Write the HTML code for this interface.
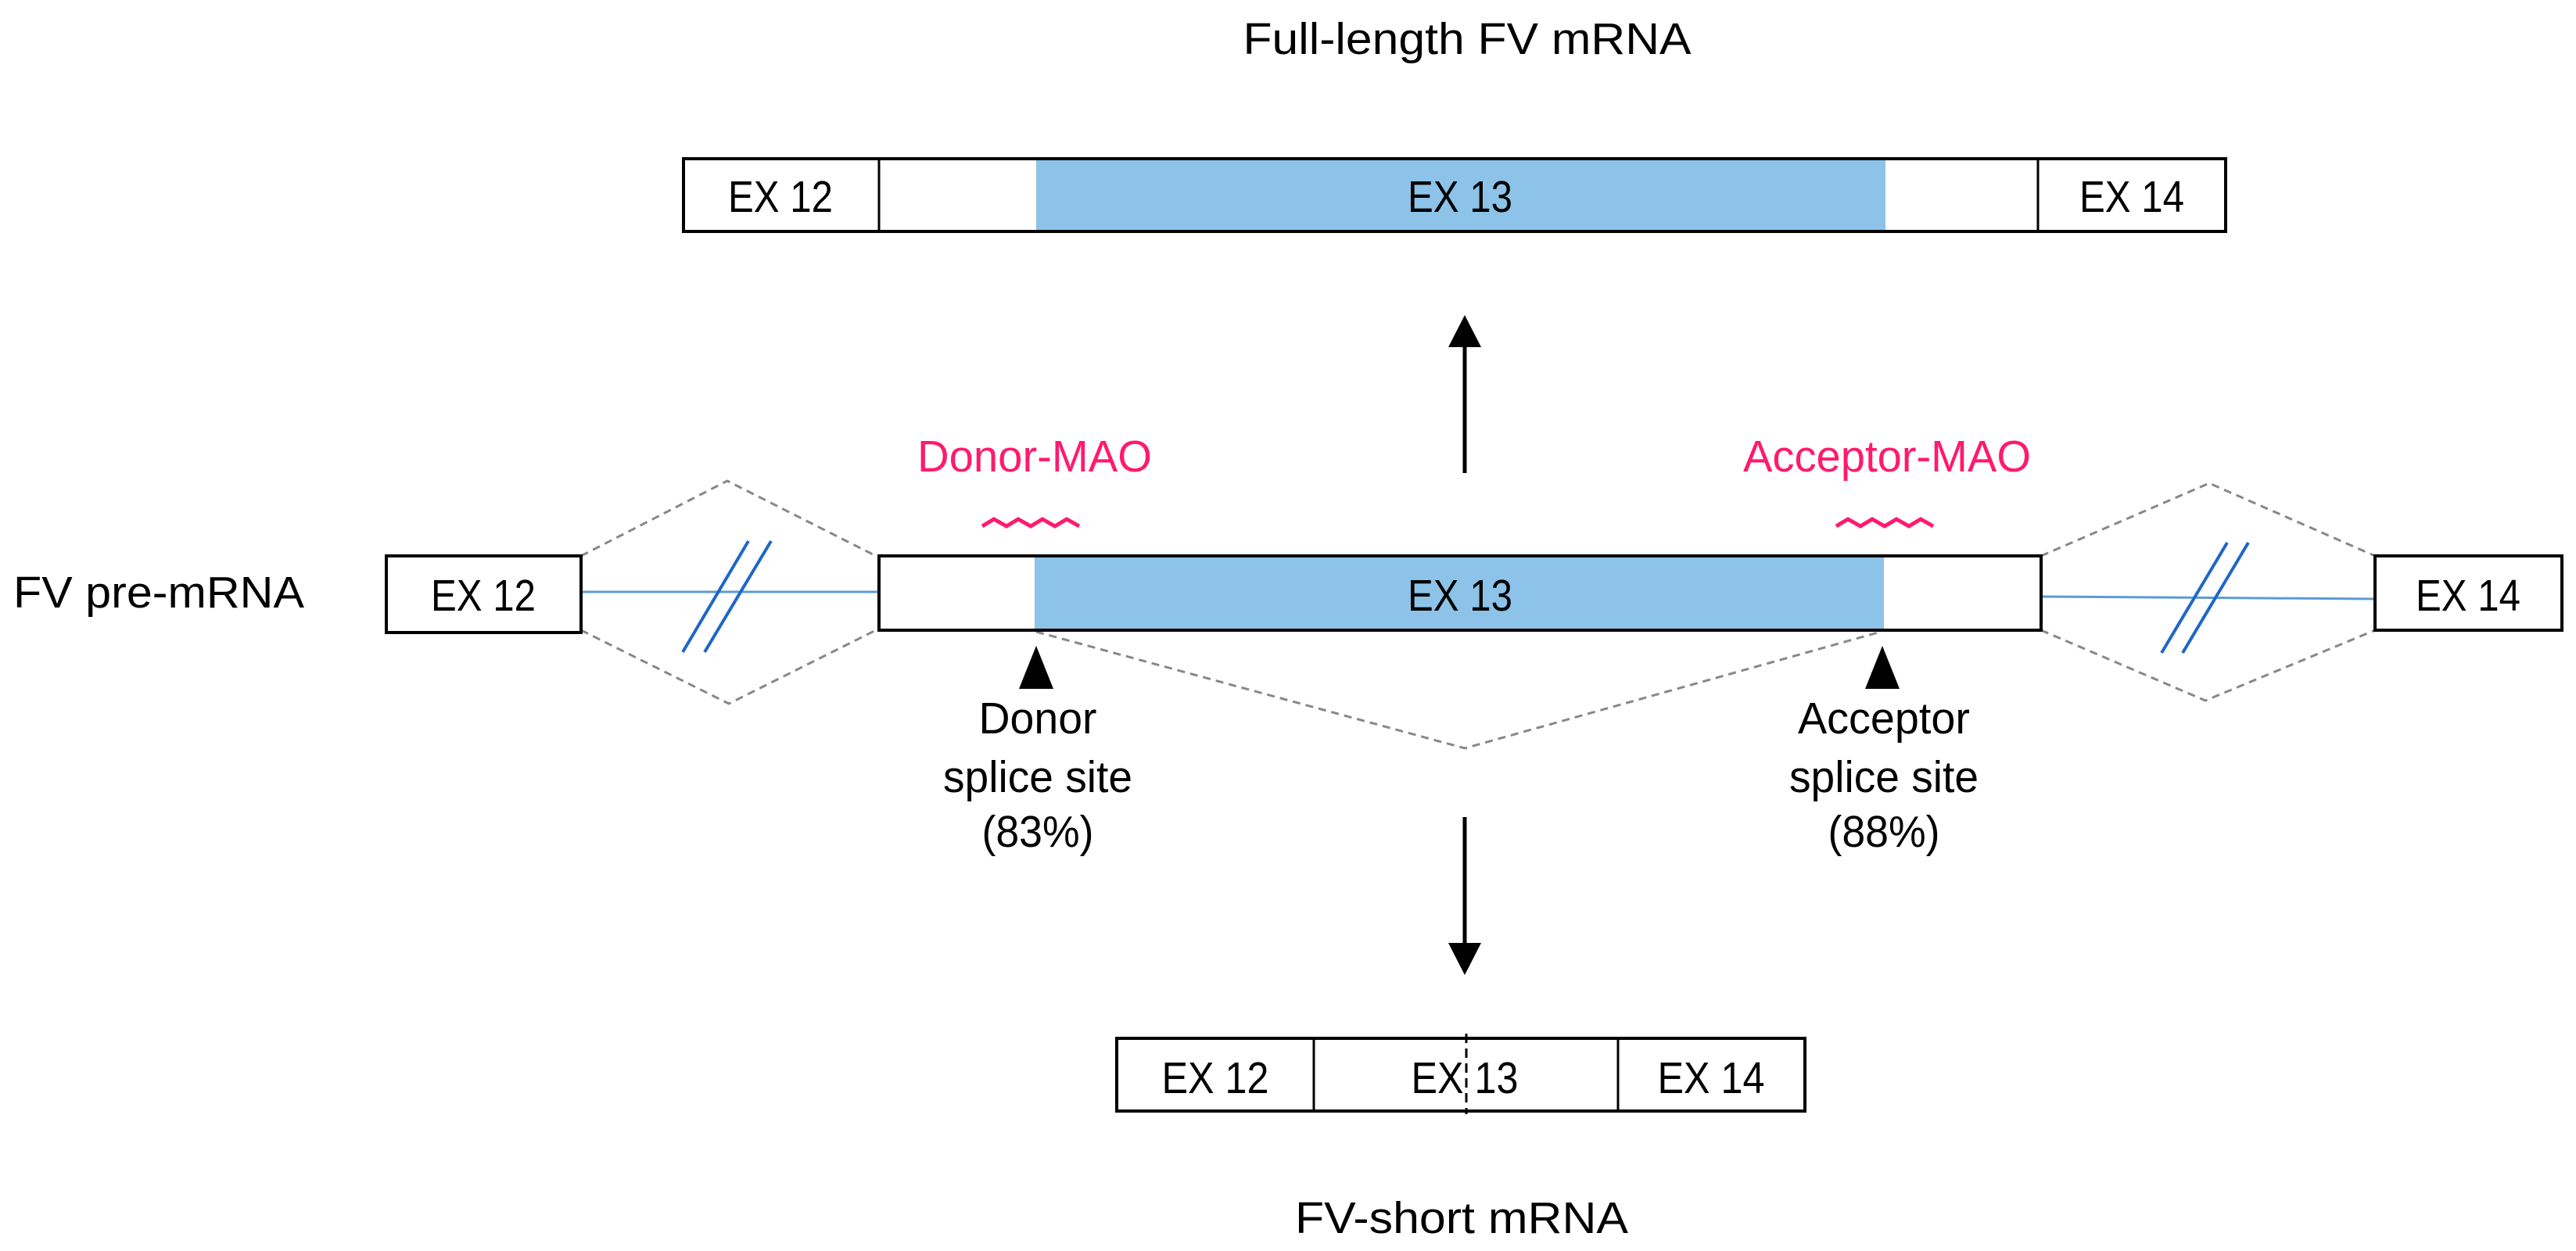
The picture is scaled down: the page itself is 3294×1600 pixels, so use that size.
<!DOCTYPE html>
<html><head><style>html,body{margin:0;padding:0;background:#fff}svg{display:block}</style></head>
<body>
<svg width="3294" height="1600" viewBox="0 0 3294 1600" xmlns="http://www.w3.org/2000/svg" font-family="Liberation Sans, sans-serif" font-size="57">
<rect width="3294" height="1600" fill="#fff"/>
<text x="1876" y="69" text-anchor="middle" textLength="573" lengthAdjust="spacingAndGlyphs">Full-length FV mRNA</text>
<rect x="1325" y="203" width="1086" height="93" fill="#8dc3e8"/>
<rect x="874" y="203" width="1972" height="93" fill="none" stroke="#000" stroke-width="4"/>
<line x1="1124" y1="203" x2="1124" y2="296" stroke="#000" stroke-width="3"/>
<line x1="2606" y1="203" x2="2606" y2="296" stroke="#000" stroke-width="3"/>
<text x="998" y="271" text-anchor="middle" textLength="134" lengthAdjust="spacingAndGlyphs">EX 12</text>
<text x="1867" y="271" text-anchor="middle" textLength="134" lengthAdjust="spacingAndGlyphs">EX 13</text>
<text x="2726" y="271" text-anchor="middle" textLength="134" lengthAdjust="spacingAndGlyphs">EX 14</text>
<line x1="1873" y1="605" x2="1873" y2="440" stroke="#000" stroke-width="5"/>
<polygon points="1873,403 1852,444 1894,444" fill="#000"/>
<text x="1323" y="603" text-anchor="middle" fill="#ff1a6e" textLength="300" lengthAdjust="spacingAndGlyphs">Donor-MAO</text>
<text x="2413" y="603" text-anchor="middle" fill="#ff1a6e" textLength="368" lengthAdjust="spacingAndGlyphs">Acceptor-MAO</text>
<polyline points="1256,673 1271,664 1287,673 1302,664 1318,673 1333,664 1349,673 1364,664 1380,673" fill="none" stroke="#ff1a6e" stroke-width="5"/>
<polyline points="2348,673 2363,664 2379,673 2394,664 2410,673 2425,664 2441,673 2456,664 2472,673" fill="none" stroke="#ff1a6e" stroke-width="5"/>
<text x="203" y="777" text-anchor="middle" textLength="372" lengthAdjust="spacingAndGlyphs">FV pre-mRNA</text>
<g fill="none" stroke="#888" stroke-width="3" stroke-dasharray="10,7">
<polyline points="743,711 930,615 1120,711"/>
<polyline points="743,806 932,900 1120,806"/>
<polyline points="2610,711 2825,618 3037,711"/>
<polyline points="2610,806 2820,896 3037,806"/>
<polyline points="1325,808 1873,957 2405,808"/>
</g>
<line x1="743" y1="757" x2="1124" y2="757" stroke="#5b9bd5" stroke-width="3"/>
<line x1="2610" y1="763" x2="3037" y2="766" stroke="#5b9bd5" stroke-width="3"/>
<g stroke="#1f66c9" stroke-width="4">
<line x1="957" y1="692" x2="873" y2="834"/>
<line x1="986" y1="692" x2="901" y2="834"/>
<line x1="2848" y1="694" x2="2764" y2="835"/>
<line x1="2875" y1="694" x2="2791" y2="835"/>
</g>
<rect x="494" y="711" width="249" height="98" fill="#fff" stroke="#000" stroke-width="4"/>
<rect x="1323" y="711" width="1086" height="95" fill="#8dc3e8"/>
<rect x="1124" y="711" width="1486" height="95" fill="none" stroke="#000" stroke-width="4"/>
<rect x="3037" y="711" width="239" height="95" fill="#fff" stroke="#000" stroke-width="4"/>
<text x="618" y="781" text-anchor="middle" textLength="134" lengthAdjust="spacingAndGlyphs">EX 12</text>
<text x="1867" y="781" text-anchor="middle" textLength="134" lengthAdjust="spacingAndGlyphs">EX 13</text>
<text x="3156" y="781" text-anchor="middle" textLength="134" lengthAdjust="spacingAndGlyphs">EX 14</text>
<polygon points="1325,826 1303,881 1347,881" fill="#000"/>
<polygon points="2407,826 2385,881 2429,881" fill="#000"/>
<text x="1327" y="938" text-anchor="middle" textLength="151" lengthAdjust="spacingAndGlyphs">Donor</text>
<text x="1327" y="1013" text-anchor="middle" textLength="242" lengthAdjust="spacingAndGlyphs">splice site</text>
<text x="1327" y="1083" text-anchor="middle" textLength="143" lengthAdjust="spacingAndGlyphs">(83%)</text>
<text x="2409" y="938" text-anchor="middle" textLength="220" lengthAdjust="spacingAndGlyphs">Acceptor</text>
<text x="2409" y="1013" text-anchor="middle" textLength="242" lengthAdjust="spacingAndGlyphs">splice site</text>
<text x="2409" y="1083" text-anchor="middle" textLength="143" lengthAdjust="spacingAndGlyphs">(88%)</text>
<line x1="1873" y1="1045" x2="1873" y2="1210" stroke="#000" stroke-width="5"/>
<polygon points="1873,1247 1852,1206 1894,1206" fill="#000"/>
<rect x="1428" y="1328" width="880" height="93" fill="#fff" stroke="#000" stroke-width="4"/>
<line x1="1680" y1="1328" x2="1680" y2="1421" stroke="#000" stroke-width="3"/>
<line x1="2069" y1="1328" x2="2069" y2="1421" stroke="#000" stroke-width="3"/>
<text x="1554" y="1398" text-anchor="middle" textLength="137" lengthAdjust="spacingAndGlyphs">EX 12</text>
<text x="1873" y="1398" text-anchor="middle" textLength="137" lengthAdjust="spacingAndGlyphs">EX 13</text>
<text x="2188" y="1398" text-anchor="middle" textLength="137" lengthAdjust="spacingAndGlyphs">EX 14</text>
<line x1="1875" y1="1322" x2="1875" y2="1425" stroke="#000" stroke-width="3" stroke-dasharray="12,7"/>
<text x="1869" y="1577" text-anchor="middle" textLength="426" lengthAdjust="spacingAndGlyphs">FV-short mRNA</text>
</svg>
</body></html>
